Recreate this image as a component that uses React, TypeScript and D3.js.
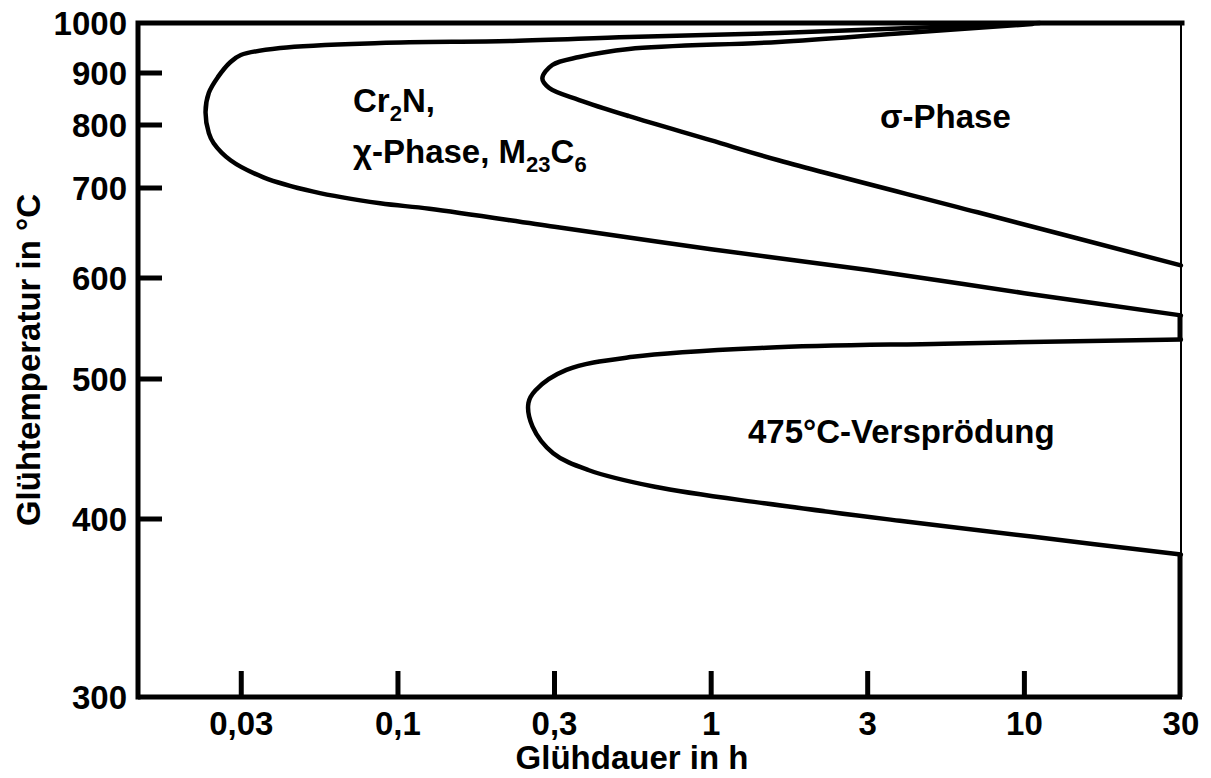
import { useEffect } from 'react';
import * as d3 from 'd3';

// Glühdauer (h) tick positions sit on half decades, labelled with the rounded values
const hourTicks = [0.0316, 0.1, 0.316, 1, 3.16, 10, 31.6];
const hourTickLabels = ['0,03', '0,1', '0,3', '1', '3', '10', '30'];

const tempTicks = [300, 400, 500, 600, 700, 800, 900, 1000];

// [Glühdauer in h, Glühtemperatur in °C]
const cr2nCurve: [number, number][] = [
  [11.2, 1000], [8.2, 996], [3.95, 989], [1.64, 980], [0.547, 972], [0.232, 964],
  [0.0877, 960], [0.0421, 950], [0.0315, 936], [0.0292, 922], [0.0266, 892],
  [0.0249, 862], [0.0243, 825], [0.0249, 787], [0.0258, 771], [0.0292, 744],
  [0.0372, 717], [0.0537, 696], [0.0877, 683], [0.126, 677], [0.316, 657],
  [1.0, 632], [3.17, 609], [10, 585], [31.6, 563],
];

const sigmaCurve: [number, number][] = [
  [10.6, 998], [3.95, 979], [1.64, 962], [0.547, 948], [0.379, 932], [0.311, 916],
  [0.289, 890], [0.304, 871], [0.379, 848], [0.547, 817], [0.995, 776], [1.64, 744],
  [7.09, 673], [31.6, 614],
];

const embrittlementCurve: [number, number][] = [
  [31.6, 539], [5.53, 535], [1.5, 531], [0.563, 522], [0.345, 509], [0.275, 492],
  [0.261, 483], [0.269, 466], [0.313, 447], [0.405, 435], [0.661, 423], [1.5, 411],
  [4.0, 399], [10.7, 390], [31.6, 380],
];

const FONT = '"Liberation Sans", Arial, Helvetica, sans-serif';

export default function App() {
  useEffect(() => {
    document.body.style.margin = '0';
  }, []);

  const width = 1211;
  const height = 778;
  const left = 138;
  const right = 1181;
  const top = 23;
  const bottom = 697;

  const x = d3.scaleLog()
    .domain([Math.pow(10, -1.83), Math.pow(10, 1.5)])
    .range([left, right]);

  // temperature axis is not linear in the original; calibrate at each labelled tick
  const y = d3.scaleLinear()
    .domain(tempTicks)
    .range([697, 519, 379, 278, 188, 125, 73, 23]);

  const line = d3.line<[number, number]>()
    .x(d => x(d[0]))
    .y(d => y(d[1]))
    .curve(d3.curveCatmullRom.alpha(0.5));

  const curves = [cr2nCurve, sigmaCurve, embrittlementCurve];

  // right border: closed (thick) where the regions run into the frame
  const thickRight: [number, number][] = [
    [cr2nCurve[cr2nCurve.length - 1][1], embrittlementCurve[0][1]],
    [embrittlementCurve[embrittlementCurve.length - 1][1], tempTicks[0]],
  ];

  return (
    <svg width={width} height={height} style={{ display: 'block', background: '#fff' }}
      fontFamily={FONT} fontWeight="bold">
      {/* frame */}
      <line x1={right} x2={right} y1={top} y2={bottom} stroke="#000" strokeWidth={2} />
      {thickRight.map((s, i) => (
        <line key={i} x1={right - 1} x2={right - 1} y1={y(s[0])} y2={y(s[1])}
          stroke="#000" strokeWidth={5} />
      ))}
      <path d={`M${left},${bottom}V${top}H${right + 1}`} fill="none" stroke="#000"
        strokeWidth={5} strokeLinecap="square" />
      <line x1={left} x2={right + 1} y1={bottom} y2={bottom} stroke="#000" strokeWidth={5} />

      {/* y ticks */}
      {tempTicks.map(t => (
        <g key={t}>
          {t !== 300 && t !== 1000 && (
            <line x1={left} x2={left + 24} y1={y(t)} y2={y(t)} stroke="#000" strokeWidth={5} />
          )}
          <text x={127} y={y(t)} dy="0.35em" textAnchor="end" fontSize={33}>{t}</text>
        </g>
      ))}

      {/* x ticks */}
      {hourTicks.map((h, i) => (
        <g key={h}>
          {i < hourTicks.length - 1 && (
            <line x1={x(h)} x2={x(h)} y1={bottom} y2={bottom - 26} stroke="#000" strokeWidth={5} />
          )}
          <text x={x(h)} y={735} textAnchor="middle" fontSize={33}>{hourTickLabels[i]}</text>
        </g>
      ))}

      {/* curves */}
      {curves.map((c, i) => (
        <path key={i} d={line(c) || ''} fill="none" stroke="#000" strokeWidth={4.5}
          strokeLinejoin="round" strokeLinecap="round" />
      ))}

      {/* region labels */}
      <text x={353} y={112} fontSize={33}>
        Cr<tspan dy={9} fontSize={22}>2</tspan><tspan dy={-9}>N,</tspan>
      </text>
      <text x={353} y={163} fontSize={33}>
        χ-Phase, M<tspan dy={9} fontSize={22}>23</tspan><tspan dy={-9}>C</tspan>
        <tspan dy={9} fontSize={22}>6</tspan>
      </text>
      <text x={880} y={128} fontSize={33}>σ-Phase</text>
      <text x={748} y={443} fontSize={33}>475°C-Versprödung</text>

      {/* axis titles */}
      <text x={632} y={769} textAnchor="middle" fontSize={33}>Glühdauer in h</text>
      <text transform="translate(40,360) rotate(-90)" textAnchor="middle" fontSize={33}>
        Glühtemperatur in °C
      </text>
    </svg>
  );
}
